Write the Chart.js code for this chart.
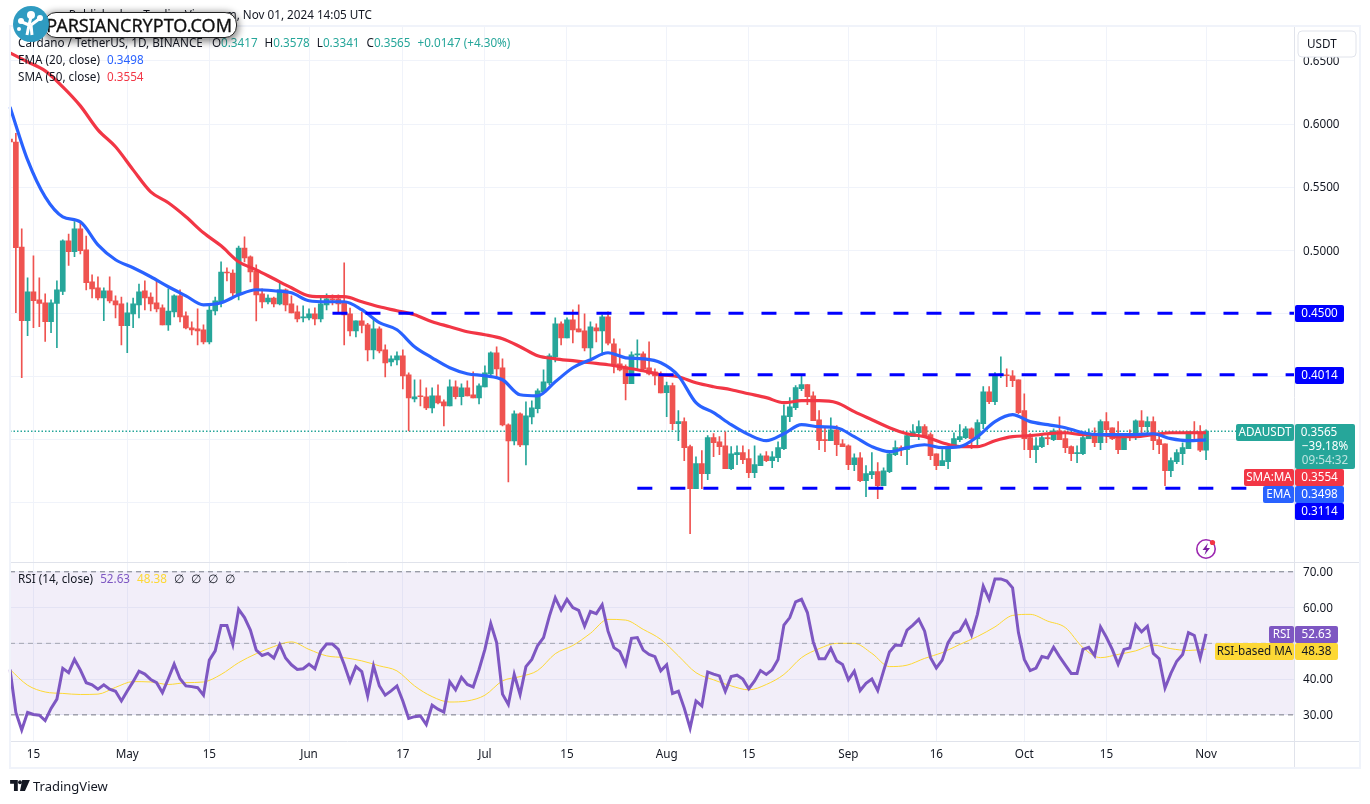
<!DOCTYPE html>
<html>
<head>
<meta charset="utf-8">
<title>ADAUSDT 1D</title>
<script src="https://cdn.jsdelivr.net/npm/chart.js@4"></script>
<style>
  html, body { margin: 0; padding: 0; background: #fff; }
  body { width: 1370px; height: 804px; overflow: hidden; position: relative; font-family: "Noto Sans", sans-serif; color: #131722; }
  canvas { position: absolute; left: 0; top: 0; }
  .txt { position: absolute; font-size: 11.7px; line-height: 16px; white-space: pre; }
  .up { color: #26a69a; }
  .gap { margin-left: 7px; }
  .mark { position: absolute; }
  #pill { position: absolute; left: 44px; top: 12px; height: 24px; background: #fff; border: 1px solid #222; border-radius: 12px;
          box-shadow: 0 2px 7px 2px rgba(0,0,0,.45); font-size: 18px; line-height: 24px; color: #111; text-align: right; padding-right: 4px; width: 187px; -webkit-text-stroke: .3px #111; }
</style>
</head>
<body>
<canvas id="chart" width="1370" height="804"></canvas>

<div class="txt" style="right:998px;top:6px">Published on TradingView.com, Nov 01, 2024 14:05 UTC</div>
<div class="txt" style="left:18px;top:34px">Cardano / TetherUS, 1D, BINANCE<span style="margin-left:9px">O<span class="up">0.3417</span></span><span class="gap">H<span class="up">0.3578</span></span><span class="gap">L<span class="up">0.3341</span></span><span class="gap">C<span class="up">0.3565</span></span><span class="gap up">+0.0147 (+4.30%)</span></div>
<div class="txt" style="left:18px;top:51px">EMA (20, close)<span class="gap" style="color:#2962ff">0.3498</span></div>
<div class="txt" style="left:18px;top:68px">SMA (50, close)<span class="gap" style="color:#f23645">0.3554</span></div>
<div class="txt" style="left:18px;top:570px">RSI (14, close)<span class="gap" style="color:#7e57c2">52.63</span><span class="gap" style="color:#fdd835">48.38</span><span class="gap">∅</span><span class="gap">∅</span><span class="gap">∅</span><span class="gap">∅</span></div>

<div id="pill">PARSIANCRYPTO.COM</div>
<svg class="mark" style="left:12px;top:5px" width="38" height="38" viewBox="0 0 38 38">
  <circle cx="19" cy="19" r="18" fill="#2f9bc1"/>
  <path d="M15 30 L17 20 L10 17 M17 20 L19 12 M19 20 L27 14 M20 30 L19 20" stroke="#fff" stroke-width="3" fill="none"/>
  <circle cx="19" cy="10" r="4" fill="#fff"/><circle cx="9" cy="16" r="3" fill="#fff"/><circle cx="28" cy="13" r="3" fill="#fff"/><circle cx="7" cy="24" r="2" fill="#fff"/>
</svg>

<svg class="mark" style="left:1195px;top:538px" width="24" height="22" viewBox="0 0 24 22">
  <circle cx="11" cy="11" r="9.2" fill="none" stroke="#9c27b0" stroke-width="1.6"/>
  <path d="M13 5 L7.5 12 H11 L9.5 17 L15 10 H11.5 Z" fill="#7b1fa2"/>
  <circle cx="17.5" cy="4.5" r="2.6" fill="#f23645"/>
</svg>

<svg class="mark" style="left:10px;top:780px" width="20" height="11" viewBox="0 0 36 20">
  <path d="M0 0 H14 V20 H7 V7 H0 Z M22 0 H36 L27 20 H18 Z" fill="#131722"/><circle cx="18" cy="4" r="3.5" fill="#131722"/>
</svg>
<div class="txt" style="left:33px;top:778px;font-size:13px">TradingView</div>

<script>
// calendar: Apr 11 -> Nov 16, the last days are the empty space right of the candles
const monthNames = ["Apr", "May", "Jun", "Jul", "Aug", "Sep", "Oct", "Nov"];
const monthDays = [30, 31, 30, 31, 31, 30, 31, 16];
const categories = [];
monthNames.forEach((m, i) => {
  for (let d = (i === 0 ? 11 : 1); d <= monthDays[i]; d++) categories.push(m + " " + d);
});

const tickDates = ["Apr 15", "May 1", "May 15", "Jun 1", "Jun 17", "Jul 1", "Jul 15", "Aug 1", "Aug 15", "Sep 1", "Sep 16", "Oct 1", "Oct 15", "Nov 1"];
const tickLabels = ["15", "May", "15", "Jun", "17", "Jul", "15", "Aug", "15", "Sep", "16", "Oct", "15", "Nov"];
const priceTicks = [0.30, 0.35, 0.40, 0.45, 0.50, 0.55, 0.60, 0.65];
const priceLabelled = [0.50, 0.55, 0.60, 0.65];
const rsiTicks = [30, 40, 50, 60, 70];

const opens = [
  .5880,.5858,.5026,.4443,.4670,.4607,.4583,.4435,.4578,.4673,
  .5074,.4989,.5169,.5003,.4749,.4702,.4622,.4678,.4599,.4575,
  .4403,.4496,.4567,.4678,.4630,.4583,.4543,.4409,.4512,.4638,
  .4480,.4385,.4377,.4369,.4274,.4519,.4591,.4828,.4820,.4654,
  .5018,.4947,.4836,.4654,.4591,.4622,.4575,.4686,.4575,.4512,
  .4464,.4464,.4496,.4456,.4567,.4615,.4615,.4583,.4496,.4361,
  .4440,.4409,.4211,.4377,.4211,.4116,.4132,.4163,.4013,.3823,
  .3846,.3839,.3751,.3846,.3799,.3767,.3918,.3839,.3910,.3854,
  .3831,.3918,.4021,.4187,.4068,.3617,.3490,.3704,.3458,.3680,
  .3744,.3878,.3949,.4155,.4417,.4306,.4448,.4377,.4361,.4227,
  .4385,.4361,.4472,.4258,.4100,.4076,.3942,.4171,.4179,.4068,
  .4037,.4013,.3871,.3927,.3626,.3642,.3444,.3111,.3309,.3230,
  .3515,.3483,.3451,.3269,.3380,.3396,.3349,.3238,.3293,.3372,
  .3333,.3356,.3428,.3681,.3752,.3903,.3935,.3847,.3657,.3499,
  .3491,.3578,.3467,.3451,.3301,.3356,.3174,.3222,.3246,.3135,
  .3246,.3380,.3436,.3420,.3523,.3554,.3602,.3539,.3388,.3293,
  .3325,.3436,.3499,.3515,.3586,.3507,.3626,.3879,.3800,.4006,
  .4014,.4006,.3974,.3729,.3515,.3420,.3444,.3515,.3499,.3570,
  .3507,.3444,.3388,.3388,.3507,.3531,.3475,.3642,.3594,.3523,
  .3420,.3523,.3515,.3649,.3602,.3642,.3499,.3467,.3253,.3325,
  .3388,.3428,.3562,.3562,.3417
];
const highs = [
  .5945,.5927,.5169,.4781,.4955,.4781,.4654,.4607,.4757,.5082,
  .5129,.5227,.5214,.5113,.4805,.4789,.4702,.4789,.4638,.4630,
  .4583,.4622,.4733,.4757,.4662,.4757,.4567,.4694,.4646,.4686,
  .4512,.4432,.4535,.4409,.4559,.4630,.4908,.4860,.4844,.5034,
  .5106,.4955,.4884,.4694,.4646,.4630,.4741,.4694,.4638,.4559,
  .4559,.4535,.4543,.4630,.4654,.4646,.4646,.4900,.4541,.4440,
  .4512,.4422,.4448,.4393,.4250,.4163,.4195,.4211,.4029,.3973,
  .3973,.3910,.3910,.3934,.3815,.3973,.3965,.3942,.3965,.4037,
  .3942,.4084,.4195,.4235,.4140,.3625,.3728,.3712,.3799,.3807,
  .3902,.4052,.4179,.4464,.4433,.4464,.4528,.4567,.4496,.4433,
  .4417,.4488,.4512,.4298,.4219,.4092,.4195,.4290,.4195,.4274,
  .4060,.4037,.3956,.3948,.3729,.3673,.3457,.3364,.3412,.3531,
  .3547,.3523,.3562,.3444,.3451,.3451,.3420,.3451,.3388,.3404,
  .3404,.3483,.3776,.3832,.3927,.4014,.3935,.3879,.3729,.3602,
  .3673,.3610,.3499,.3459,.3388,.3396,.3293,.3396,.3317,.3277,
  .3404,.3491,.3451,.3547,.3618,.3649,.3618,.3554,.3388,.3420,
  .3444,.3554,.3618,.3602,.3594,.3657,.3919,.3919,.4030,.4156,
  .4061,.4046,.3974,.3863,.3547,.3515,.3547,.3547,.3586,.3681,
  .3570,.3451,.3451,.3547,.3586,.3594,.3657,.3713,.3594,.3642,
  .3539,.3578,.3657,.3729,.3681,.3681,.3539,.3467,.3356,.3420,
  .3475,.3562,.3642,.3610,.3578
];
const lows = [
  .5755,.4506,.3991,.4324,.4387,.4395,.4277,.4348,.4229,.4649,
  .4879,.4950,.4971,.4686,.4622,.4607,.4443,.4583,.4464,.4250,
  .4189,.4387,.4464,.4527,.4519,.4512,.4409,.4364,.4472,.4432,
  .4377,.4329,.4250,.4258,.4258,.4488,.4551,.4757,.4638,.4607,
  .4908,.4749,.4440,.4543,.4575,.4551,.4567,.4519,.4504,.4432,
  .4432,.4448,.4409,.4432,.4527,.4567,.4501,.4250,.4322,.4314,
  .4345,.4124,.4140,.4187,.3997,.4084,.4092,.3902,.3569,.3799,
  .3767,.3736,.3712,.3783,.3609,.3767,.3823,.3775,.3846,.3831,
  .3783,.3918,.4013,.3997,.3609,.3165,.3458,.3443,.3300,.3625,
  .3712,.3870,.3934,.4116,.4250,.4306,.4266,.4353,.4203,.4147,
  .4274,.4171,.4250,.4029,.4044,.3815,.3942,.4052,.4052,.4013,
  .3934,.3870,.3681,.3578,.3491,.3333,.2755,.3111,.3111,.3182,
  .3364,.3380,.3269,.3261,.3301,.3309,.3198,.3198,.3293,.3325,
  .3277,.3325,.3420,.3642,.3737,.3887,.3776,.3649,.3420,.3404,
  .3491,.3372,.3444,.3261,.3253,.3166,.3047,.3190,.3032,.3135,
  .3238,.3372,.3372,.3301,.3523,.3499,.3531,.3341,.3261,.3293,
  .3269,.3436,.3483,.3507,.3428,.3451,.3586,.3784,.3776,.3990,
  .3919,.3919,.3705,.3420,.3356,.3317,.3436,.3459,.3491,.3499,
  .3396,.3333,.3317,.3380,.3507,.3444,.3420,.3475,.3499,.3388,
  .3420,.3491,.3499,.3523,.3547,.3420,.3388,.3135,.3206,.3309,
  .3301,.3428,.3499,.3404,.3341
];
const closes = [
  .5858,.5021,.4443,.4670,.4601,.4578,.4435,.4583,.4686,.5074,
  .4989,.5169,.4997,.4744,.4694,.4622,.4678,.4599,.4567,.4403,
  .4504,.4575,.4670,.4622,.4575,.4535,.4409,.4519,.4638,.4472,
  .4385,.4369,.4361,.4274,.4527,.4599,.4828,.4820,.4662,.5018,
  .4939,.4828,.4646,.4591,.4622,.4575,.4686,.4567,.4504,.4456,
  .4472,.4496,.4456,.4575,.4615,.4607,.4575,.4488,.4361,.4440,
  .4404,.4211,.4377,.4203,.4108,.4140,.4163,.4005,.3831,.3839,
  .3839,.3751,.3846,.3791,.3767,.3918,.3839,.3910,.3846,.3831,
  .3926,.4029,.4187,.4060,.3617,.3490,.3704,.3458,.3688,.3751,
  .3886,.3957,.4163,.4417,.4306,.4448,.4369,.4353,.4227,.4393,
  .4361,.4472,.4264,.4092,.4052,.3942,.4171,.4179,.4060,.4021,
  .4005,.3870,.3927,.3626,.3642,.3436,.3111,.3309,.3230,.3515,
  .3475,.3444,.3269,.3388,.3396,.3341,.3238,.3301,.3372,.3333,
  .3364,.3436,.3689,.3760,.3911,.3935,.3840,.3649,.3491,.3491,
  .3578,.3459,.3444,.3301,.3356,.3174,.3230,.3246,.3135,.3253,
  .3388,.3436,.3428,.3531,.3562,.3602,.3531,.3372,.3293,.3333,
  .3436,.3507,.3523,.3586,.3507,.3634,.3879,.3800,.4014,.4019,
  .4006,.3966,.3713,.3507,.3420,.3451,.3515,.3507,.3570,.3499,
  .3436,.3388,.3396,.3515,.3539,.3475,.3642,.3578,.3507,.3420,
  .3515,.3515,.3649,.3602,.3642,.3491,.3459,.3253,.3333,.3396,
  .3436,.3562,.3554,.3417,.3565
];

// moving averages, read every third day
const maStep = 3;
const ema20 = [
  .6136,.5716,.5423,.5265,.5225,.5043,.4925,.4861,.4790,.4711,
  .4639,.4568,.4584,.4647,.4687,.4679,.4663,.4600,.4592,.4592,
  .4529,.4426,.4370,.4236,.4148,.4069,.4022,.4006,.3974,.3855,
  .3847,.3958,.4069,.4133,.4188,.4148,.4140,.4109,.4006,.3792,
  .3713,.3618,.3539,.3491,.3546,.3618,.3602,.3594,.3523,.3444,
  .3404,.3436,.3459,.3436,.3444,.3523,.3642,.3697,.3642,.3618,
  .3594,.3554,.3539,.3539,.3539,.3546,.3507,.3491,.3498
];
const sma50 = [
  .6564,.6493,.6421,.6295,.6144,.5954,.5820,.5637,.5463,.5376,
  .5265,.5138,.5035,.4909,.4845,.4774,.4703,.4639,.4632,.4632,
  .4592,.4552,.4521,.4489,.4434,.4394,.4354,.4331,.4299,.4236,
  .4164,.4140,.4125,.4109,.4093,.4069,.4045,.4014,.3998,.3950,
  .3919,.3895,.3863,.3832,.3792,.3808,.3808,.3792,.3721,.3657,
  .3594,.3546,.3523,.3475,.3444,.3444,.3491,.3523,.3531,.3546,
  .3554,.3539,.3539,.3523,.3523,.3539,.3554,.3554,.3554
];

const rsi14 = [
  42.7,30.7,25.8,30.7,30.1,29.9,28.4,31.8,34.4,43.0,
  41.8,45.5,42.6,39.0,38.4,37.2,38.4,37.2,36.6,33.9,
  36.7,39.3,42.2,41.4,39.9,39.0,36.2,40.1,44.2,40.1,
  38.1,37.9,37.6,35.5,45.3,47.9,55.0,55.0,49.7,59.5,
  57.2,53.7,48.1,46.6,47.2,45.9,49.6,45.9,44.0,42.7,
  42.9,44.2,42.9,47.8,49.8,49.8,48.3,44.1,39.3,43.5,
  42.1,35.3,43.7,38.1,35.5,36.7,38.1,33.9,29.0,29.5,
  29.7,27.3,32.7,31.6,30.8,39.3,37.0,40.5,38.5,37.8,
  42.7,48.3,55.5,50.2,35.8,32.9,41.3,35.7,43.5,45.5,
  49.4,51.6,57.6,62.7,59.3,62.3,60.0,59.2,54.8,58.9,
  58.3,60.8,53.4,48.8,47.7,44.1,51.4,51.6,48.1,46.9,
  46.3,42.3,44.0,36.0,36.6,31.9,26.3,33.9,32.5,42.0,
  41.4,40.9,36.6,40.7,41.1,40.0,37.3,39.5,42.4,41.3,
  42.6,45.5,55.1,57.2,61.6,62.3,58.6,50.4,45.7,45.7,
  48.6,45.1,44.1,39.8,42.2,36.8,38.8,40.0,36.8,42.3,
  47.6,49.5,49.4,53.7,55.1,56.7,53.4,46.0,43.1,45.3,
  50.2,52.8,53.5,56.3,52.4,58.1,66.0,62.3,68.0,68.0,
  67.4,65.5,53.0,45.5,42.4,43.1,46.3,45.9,48.9,46.3,
  43.9,41.6,41.6,48.3,48.9,46.6,54.6,51.7,48.3,44.2,
  48.3,48.7,55.2,53.2,54.8,47.2,45.7,37.5,41.6,45.0,
  46.9,53.0,52.2,45.9,52.63
];
const rsiMa = [
  42.7,38.3,36.4,36.0,35.7,35.8,37.7,39.3,39.2,38.5,
  39.0,39.2,41.3,44.6,47.1,49.1,50.4,48.3,46.5,46.0,
  45.1,43.7,42.3,38.1,35.1,33.6,33.9,35.5,39.5,40.7,
  42.4,47.1,49.4,52.8,56.7,56.5,53.9,51.1,46.5,41.8,
  39.8,38.1,37.0,38.5,41.3,46.0,48.5,50.0,50.0,47.2,
  43.5,43.9,45.8,47.4,49.7,51.9,54.6,57.8,58.1,56.2,
  54.4,48.8,46.0,46.9,47.9,49.5,48.5,48.0,48.38
];

// drawn levels and the last price, with first/last day of each
const levelPrices = [0.4500, 0.4014, 0.3114];
const levelFrom = ["Jun 5", "Jul 25", "Jul 27"];
const levelTo = ["Nov 16", "Nov 16", "Nov 8"];
const lastPrice = 0.3565;

const GREEN = "#26a69a", RED = "#ef5350", BLUE = "#2962ff", SMA_RED = "#f23645", PURPLE = "#7e57c2", YELLOW = "#fdd835";
const FONT = '"Noto Sans", sans-serif';
const lastDay = categories[categories.length - 1];

const candleColors = closes.map((c, i) => (c >= opens[i] ? GREEN : RED));
const sampled = arr => arr.map((v, k) => ({ x: categories[k * maStep], y: v }));
const hLine = (y, from, to, axis, color, dash, width, extra) => Object.assign({
  type: "line", yAxisID: axis, data: [{ x: from, y }, { x: to, y }],
  borderColor: color, borderWidth: width, borderDash: dash, pointRadius: 0, order: 5
}, extra || {});
const lineSet = (data, axis, color, width, order, tension) => ({
  type: "line", yAxisID: axis, data, borderColor: color, borderWidth: width,
  pointRadius: 0, order, cubicInterpolationMode: tension ? "monotone" : "default"
});

// labels on the axes, in page pixels
const tags = [
  { x: 1295, y: 305, w: 49, h: 17, bg: "#0000ff", fg: "#fff", text: "0.4500" },
  { x: 1295, y: 367, w: 49, h: 17, bg: "#0000ff", fg: "#fff", text: "0.4014" },
  { x: 1236, y: 424, w: 58, h: 17, bg: GREEN, fg: "#fff", text: "ADAUSDT" },
  { x: 1295, y: 424, w: 60, h: 45, bg: GREEN, fg: "#fff", text: "" },
  { x: 1244, y: 469, w: 50, h: 17, bg: SMA_RED, fg: "#fff", text: "SMA:MA" },
  { x: 1295, y: 469, w: 49, h: 17, bg: SMA_RED, fg: "#fff", text: "0.3554" },
  { x: 1263, y: 486, w: 31, h: 17, bg: BLUE, fg: "#fff", text: "EMA" },
  { x: 1295, y: 486, w: 49, h: 17, bg: BLUE, fg: "#fff", text: "0.3498" },
  { x: 1295, y: 503, w: 49, h: 17, bg: "#0000ff", fg: "#fff", text: "0.3114" },
  { x: 1269, y: 626, w: 25, h: 17, bg: PURPLE, fg: "#fff", text: "RSI" },
  { x: 1295, y: 626, w: 43, h: 17, bg: PURPLE, fg: "#fff", text: "52.63" },
  { x: 1215, y: 643, w: 79, h: 17, bg: YELLOW, fg: "#131722", text: "RSI-based MA" },
  { x: 1295, y: 643, w: 43, h: 17, bg: YELLOW, fg: "#131722", text: "48.38" }
];

const overlay = {
  id: "overlay",
  afterDraw(chart) {
    const c = chart.ctx;
    c.save();
    // pane frame
    c.strokeStyle = "#e0e3eb";
    c.lineWidth = 1;
    [[1294.5, 27, 1294.5, 768], [10, 741.5, 1360, 741.5], [10, 562.5, 1360, 562.5]].forEach(l => {
      c.beginPath(); c.moveTo(l[0], l[1]); c.lineTo(l[2], l[3]); c.stroke();
    });
    c.strokeStyle = "#f0f3fa";
    c.lineWidth = 2;
    c.strokeRect(10, 26, 1350, 742);

    // USDT button
    c.fillStyle = "#fff";
    c.strokeStyle = "#e0e3eb";
    c.lineWidth = 1;
    c.beginPath(); c.roundRect(1298, 31, 58, 26, 4); c.fill(); c.stroke();
    c.fillStyle = "#131722";
    c.font = "11.7px " + FONT;
    c.textBaseline = "middle";
    c.textAlign = "left";
    c.fillText("USDT", 1307, 45);

    tags.forEach(t => {
      c.fillStyle = t.bg;
      c.beginPath(); c.roundRect(t.x, t.y, t.w, t.h, 2); c.fill();
      c.fillStyle = t.fg;
      c.textAlign = "center";
      c.fillText(t.text, t.x + t.w / 2, t.y + t.h / 2 + 0.5);
    });
    // last price block: price, change, countdown
    c.fillStyle = "#fff";
    c.fillText("0.3565", 1319, 433);
    c.fillText("−39.18%", 1325, 447);
    c.fillStyle = "rgba(255,255,255,.7)";
    c.fillText("09:54:32", 1325, 461);
    c.restore();
  }
};

new Chart(document.getElementById("chart"), {
  data: {
    labels: categories,
    datasets: [
      // RSI band and its limits
      hLine(70, categories[0], lastDay, "yRsi", "#787b86", [5, 4], 1, { fill: { value: 30 }, backgroundColor: "rgba(126,87,194,.1)", order: 20 }),
      hLine(50, categories[0], lastDay, "yRsi", "rgba(120,123,134,.6)", [5, 4], 1),
      hLine(30, categories[0], lastDay, "yRsi", "#787b86", [5, 4], 1),
      hLine(lastPrice, categories[0], lastDay, "yPrice", GREEN, [1.5, 2], 1.5, { order: 12 }),
      // candles, wick first then body over it
      { type: "bar", yAxisID: "yPrice", grouped: false, barThickness: 1, order: 11,
        data: lows.map((l, i) => [l, highs[i]]), backgroundColor: candleColors },
      { type: "bar", yAxisID: "yPrice", grouped: false, barThickness: 5, order: 10, minBarLength: 1,
        data: opens.map((o, i) => [o, closes[i]]), backgroundColor: candleColors },
      lineSet(sampled(sma50), "yPrice", SMA_RED, 3.2, 4, true),
      lineSet(sampled(ema20), "yPrice", BLUE, 3.2, 3, true),
      hLine(levelPrices[0], levelFrom[0], levelTo[0], "yPrice", "#0000ff", [15, 18], 3, { order: 2 }),
      hLine(levelPrices[1], levelFrom[1], levelTo[1], "yPrice", "#0000ff", [15, 18], 3, { order: 2 }),
      hLine(levelPrices[2], levelFrom[2], levelTo[2], "yPrice", "#0000ff", [15, 18], 3, { order: 2 }),
      lineSet(sampled(rsiMa), "yRsi", YELLOW, 1, 6, true),
      lineSet(rsi14.map((v, i) => ({ x: categories[i], y: v })), "yRsi", PURPLE, 3, 1, false)
    ]
  },
  options: {
    responsive: false,
    animation: false,
    events: [],
    layout: { padding: { left: 10, top: 27, right: 10, bottom: 36 } },
    plugins: { legend: { display: false }, tooltip: { enabled: false } },
    scales: {
      x: {
        type: "category",
        offset: false,
        grid: { color: "#f0f3fa", drawTicks: false, offset: false },
        border: { display: false },
        ticks: {
          autoSkip: false, maxRotation: 0, padding: 7, color: "#131722", font: { family: FONT, size: 11.7 },
          callback(value) { return tickLabels[tickDates.indexOf(this.getLabelForValue(value))]; }
        },
        afterBuildTicks(scale) {
          scale.ticks = scale.ticks.filter(t => tickDates.includes(categories[t.value]));
        },
        afterFit(scale) { scale.height = 27; }
      },
      yPrice: {
        type: "linear", position: "right", stack: "panes", stackWeight: 535.5, weight: 1,
        min: 0.2529, max: 0.6769,
        grid: { color: "#f0f3fa", drawTicks: false },
        border: { display: false },
        ticks: {
          padding: 9, labelOffset: 1, color: "#131722", font: { family: FONT, size: 11.7 },
          callback(v) { return priceLabelled.includes(v) ? v.toFixed(4) : ""; }
        },
        afterBuildTicks(scale) { scale.ticks = priceTicks.map(value => ({ value })); },
        afterFit(scale) { scale.width = 66; }
      },
      yRsi: {
        type: "linear", position: "right", stack: "panes", stackWeight: 179, weight: 2,
        min: 22.7, max: 72.7,
        grid: { color: "#f0f3fa", drawTicks: false },
        border: { display: false },
        ticks: {
          padding: 9, labelOffset: 1, color: "#131722", font: { family: FONT, size: 11.7 },
          callback(v) { return v.toFixed(2); }
        },
        afterBuildTicks(scale) { scale.ticks = rsiTicks.map(value => ({ value })); },
        afterFit(scale) { scale.width = 66; }
      }
    }
  },
  plugins: [overlay]
});
</script>
</body>
</html>
